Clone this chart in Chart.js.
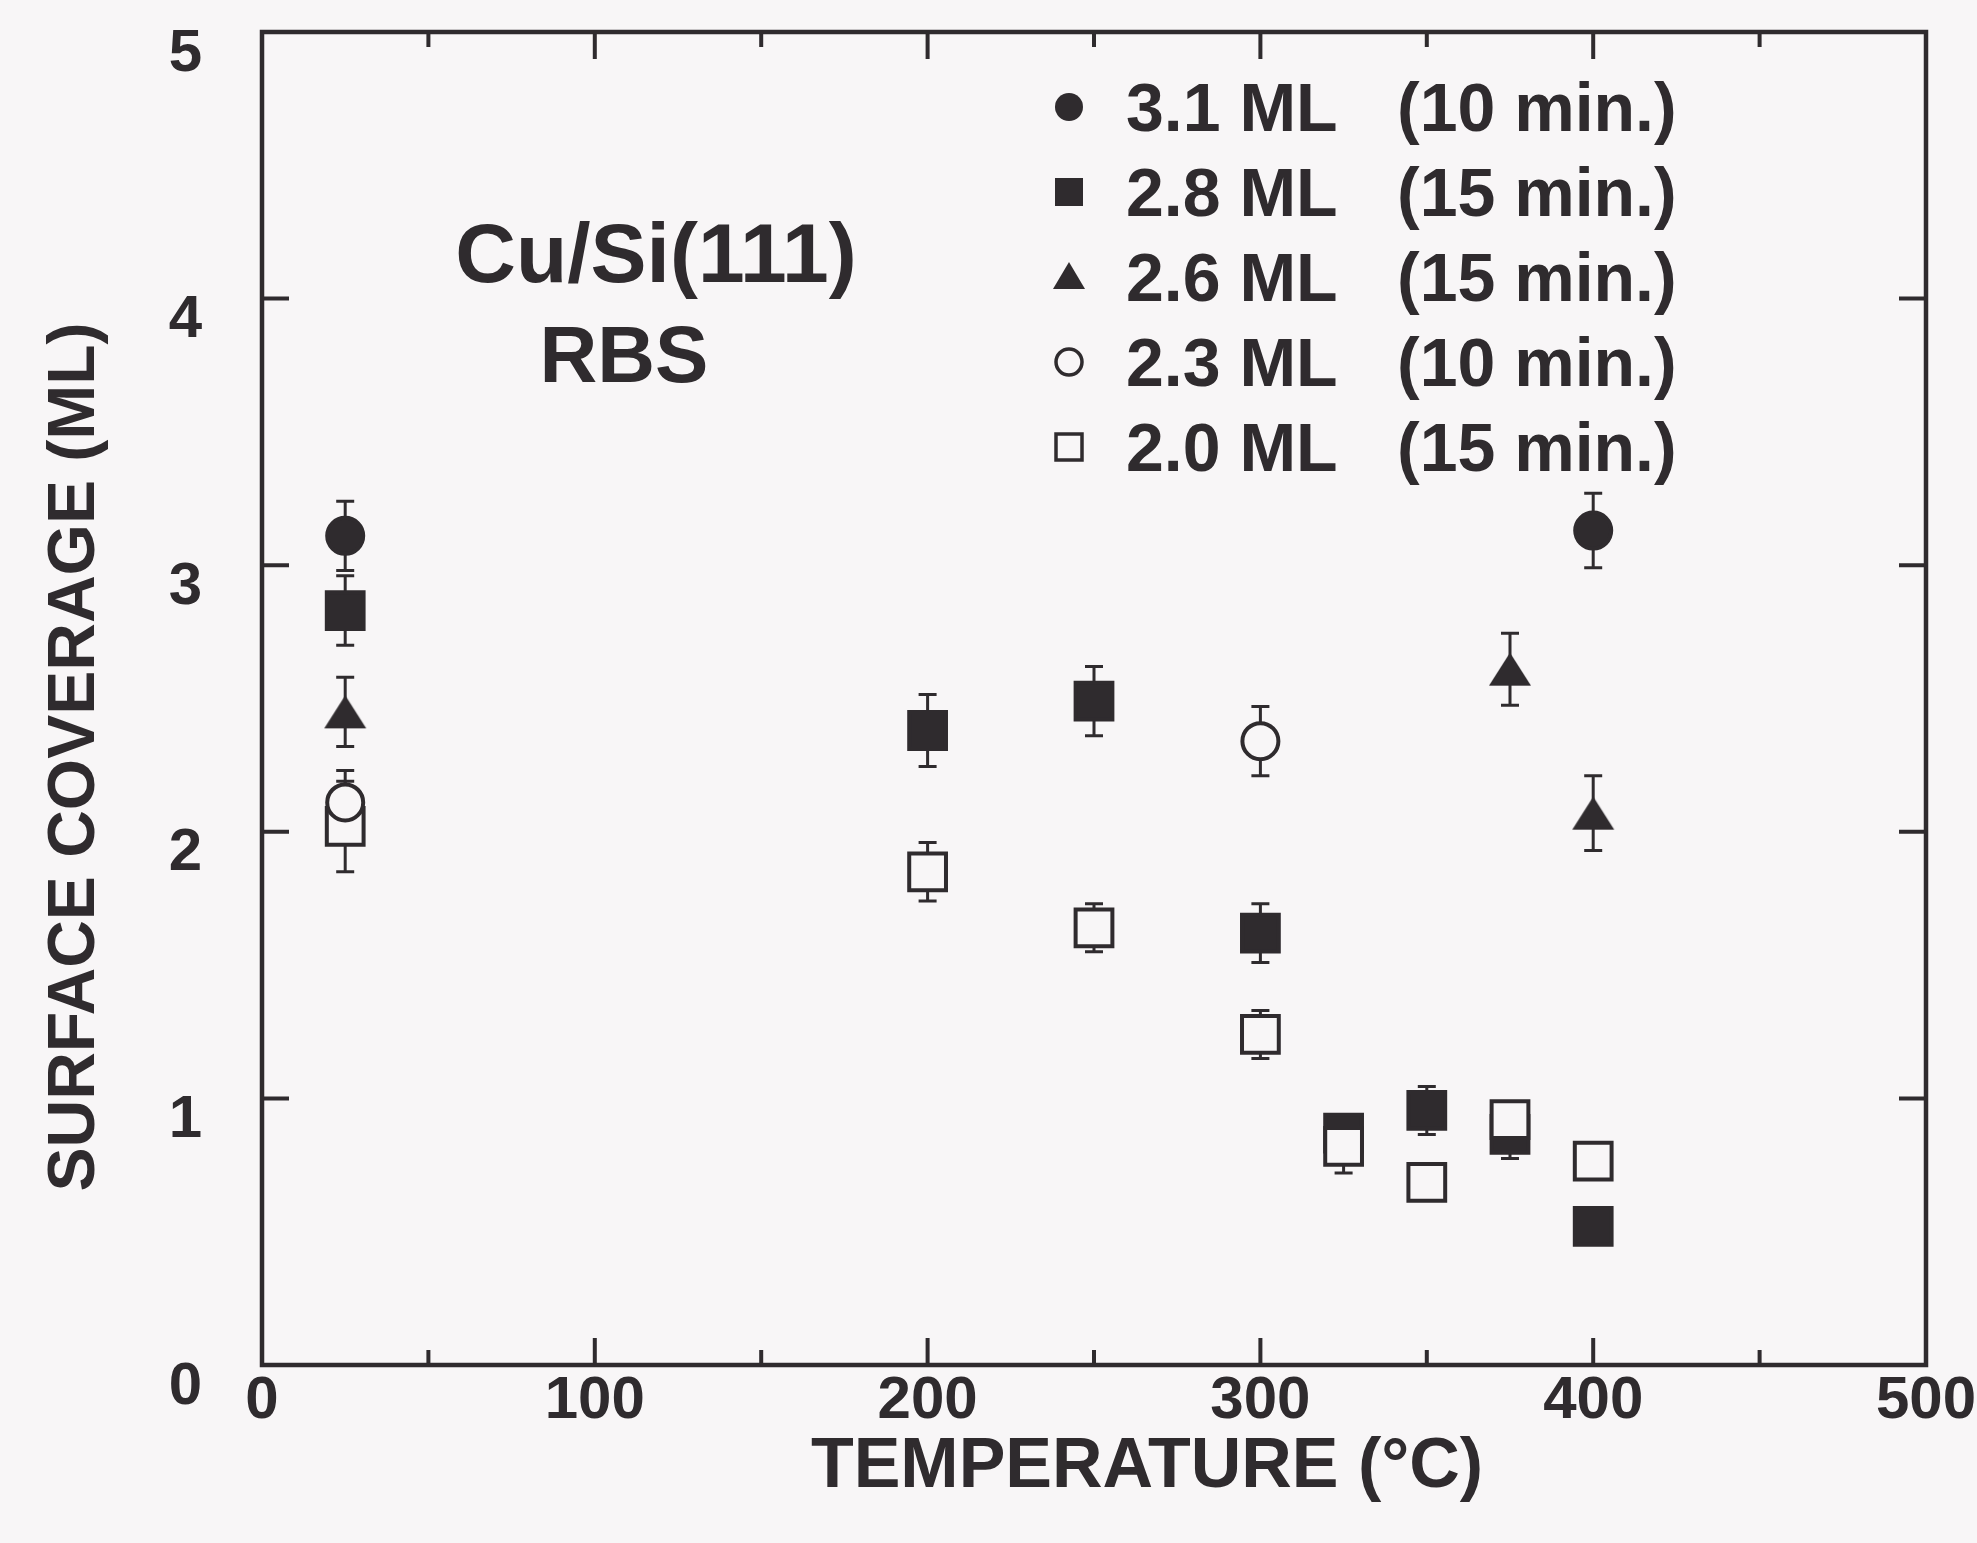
<!DOCTYPE html>
<html>
<head>
<meta charset="utf-8">
<title>Cu/Si(111) surface coverage</title>
<script src="https://cdn.jsdelivr.net/npm/chart.js@4.4.1/dist/chart.umd.min.js"></script>
<style>
  html, body { margin: 0; padding: 0; background: #f8f6f7; }
  #wrap { width: 1977px; height: 1543px; }
</style>
</head>
<body>
<div id="wrap"><canvas id="coverage" width="1977" height="1543"></canvas></div>
<script>
// ---- data: temperature (°C), coverage (ML), error (ML) ----
const t31 = [25, 400];
const c31 = [3.11, 3.13];
const e31 = [0.13, 0.14];

const t28 = [25, 200, 250, 300, 325, 350, 375, 400];
const c28 = [2.83, 2.38, 2.49, 1.62, 0.87, 0.955, 0.865, 0.52];
const e28 = [0.13, 0.135, 0.13, 0.11, 0.06, 0.09, 0.09, 0.04];

const t26 = [25, 375, 400];
const c26 = [2.45, 2.61, 2.07];
const e26 = [0.13, 0.135, 0.14];

const t23 = [25, 300];
const c23 = [2.11, 2.34];
const e23 = [0.12, 0.13];

const t20 = [25, 200, 250, 300, 325, 350, 375, 400];
const c20 = [2.02, 1.85, 1.64, 1.24, 0.82, 0.685, 0.92, 0.765];
const e20 = [0.17, 0.11, 0.09, 0.09, 0.1, 0.05, 0.06, 0.06];

const seriesLabels = ['3.1 ML', '2.8 ML', '2.6 ML', '2.3 ML', '2.0 ML'];
const anneals = ['(10 min.)', '(15 min.)', '(15 min.)', '(10 min.)', '(15 min.)'];

const xMajor = [100, 200, 300, 400];
const xMinor = [50, 150, 250, 350, 450];
const yMajor = [1, 2, 3, 4];

const ink = '#2f2b2e';
const paper = '#f8f6f7';
const FONT = '"Liberation Sans", Arial, Helvetica, sans-serif';

// filled triangle sprite, centred on its bounding box (built-in one sits on the centroid)
function triangleSprite(w, h){
  const c = document.createElement('canvas');
  c.width = w + 2; c.height = h + 2;
  const g = c.getContext('2d');
  g.fillStyle = ink;
  g.beginPath();
  g.moveTo(c.width / 2, 1);
  g.lineTo(w + 1, h + 1);
  g.lineTo(1, h + 1);
  g.closePath();
  g.fill();
  return c;
}

function series(label, xs, ys, errs, style, filled, radius, order){
  return {
    label,
    data: xs.map((x, i) => ({ x, y: ys[i] })),
    errors: errs,
    pointStyle: style,
    pointRadius: radius,
    pointHoverRadius: radius,
    pointBorderWidth: 4,
    pointBorderColor: ink,
    pointBackgroundColor: filled ? ink : paper,
    showLine: false,
    order
  };
}

const datasets = [
  series(seriesLabels[0], t31, c31, e31, 'circle',   true,  18, 4),
  series(seriesLabels[1], t28, c28, e28, 'rect',     true,  26, 3),
  series(seriesLabels[2], t26, c26, e26, triangleSprite(42, 33), true, 22, 2),
  series(seriesLabels[3], t23, c23, e23, 'circle',   false, 18, 0),
  series(seriesLabels[4], t20, c20, e20, 'rect',     false, 26, 1)
];

// vertical error bars with short caps, drawn under the markers
const errorBars = {
  id: 'errorBars',
  beforeDatasetsDraw(chart){
    const { ctx, scales: { x, y } } = chart;
    ctx.save();
    ctx.strokeStyle = ink;
    ctx.lineWidth = 3;
    chart.data.datasets.forEach(ds => {
      ds.data.forEach((p, i) => {
        const e = ds.errors[i];
        const px = x.getPixelForValue(p.x);
        const top = y.getPixelForValue(p.y + e);
        const bot = y.getPixelForValue(p.y - e);
        ctx.beginPath();
        ctx.moveTo(px, top); ctx.lineTo(px, bot);
        ctx.moveTo(px - 9, top); ctx.lineTo(px + 9, top);
        ctx.moveTo(px - 9, bot); ctx.lineTo(px + 9, bot);
        ctx.stroke();
      });
    });
    ctx.restore();
  }
};

// closed frame with inward ticks on all four sides
const frame = {
  id: 'frame',
  afterDatasetsDraw(chart){
    const { ctx, chartArea: a, scales: { x, y } } = chart;
    ctx.save();
    ctx.strokeStyle = ink;
    ctx.lineWidth = 4;
    ctx.lineCap = 'butt';
    ctx.beginPath();
    const tick = (px, len) => {
      ctx.moveTo(px, a.bottom); ctx.lineTo(px, a.bottom - len);
      ctx.moveTo(px, a.top); ctx.lineTo(px, a.top + len);
    };
    xMajor.forEach(v => tick(x.getPixelForValue(v), 27));
    xMinor.forEach(v => tick(x.getPixelForValue(v), 15));
    yMajor.forEach(v => {
      const py = y.getPixelForValue(v);
      ctx.moveTo(a.left, py); ctx.lineTo(a.left + 27, py);
      ctx.moveTo(a.right, py); ctx.lineTo(a.right - 27, py);
    });
    ctx.stroke();
    ctx.lineWidth = 4.5;
    ctx.strokeRect(a.left, a.top, a.right - a.left, a.bottom - a.top);
    ctx.restore();
  }
};

// legend block, sample label and axis titles
const labels = {
  id: 'labels',
  afterDraw(chart){
    const { ctx } = chart;
    ctx.save();
    ctx.fillStyle = ink;
    ctx.strokeStyle = ink;

    const styles = ['circle', 'rect', 'triangle', 'circle', 'rect'];
    const filled = [true, true, true, false, false];
    ctx.font = 'bold 68px ' + FONT;
    ctx.textBaseline = 'alphabetic';
    ctx.textAlign = 'left';
    seriesLabels.forEach((txt, i) => {
      const cy = 107 + i * 85;
      const mx = 1069;
      ctx.beginPath();
      if(styles[i] === 'circle'){
        ctx.arc(mx, cy, filled[i] ? 14 : 13, 0, Math.PI * 2);
      } else if(styles[i] === 'rect'){
        const h = filled[i] ? 14 : 13;
        ctx.rect(mx - h, cy - h, 2 * h, 2 * h);
      } else {
        ctx.moveTo(mx, cy - 15);
        ctx.lineTo(mx + 16, cy + 12);
        ctx.lineTo(mx - 16, cy + 12);
        ctx.closePath();
      }
      if(filled[i]){ ctx.fill(); }
      else { ctx.lineWidth = 3.5; ctx.stroke(); }
      ctx.fillText(txt, 1126, cy + 24);
      ctx.fillText(anneals[i], 1397, cy + 24);
    });

    ctx.textAlign = 'center';
    ctx.font = 'bold 84px ' + FONT;
    ctx.fillText('Cu/Si(111)', 656, 282);
    ctx.font = 'bold 80px ' + FONT;
    ctx.fillText('RBS', 624, 382);

    ctx.font = 'bold 70px ' + FONT;
    ctx.fillText('TEMPERATURE (°C)', 1147, 1487);

    ctx.translate(76, 757);
    ctx.rotate(-Math.PI / 2);
    ctx.font = 'bold 66px ' + FONT;
    ctx.textBaseline = 'middle';
    ctx.fillText('SURFACE COVERAGE (ML)', 0, 0);
    ctx.restore();
  }
};

const tickFont = { family: FONT, size: 60, weight: 'bold' };

// keep the plot box fixed: no extra room reserved for overhanging end labels
function fixBox(s, side, size){
  s[side] = size;
  s.paddingTop = 0; s.paddingBottom = 0;
  s.paddingLeft = 0; s.paddingRight = 0;
}

new Chart(document.getElementById('coverage'), {
  type: 'scatter',
  data: { datasets },
  options: {
    responsive: false,
    animation: false,
    devicePixelRatio: 1,
    layout: { padding: { top: 32, right: 51, left: 0, bottom: 0 } },
    plugins: { legend: { display: false }, tooltip: { enabled: false } },
    scales: {
      x: {
        type: 'linear', min: 0, max: 500,
        ticks: { stepSize: 100, color: ink, font: tickFont, padding: 0, maxRotation: 0 },
        grid: { display: false, drawTicks: false },
        border: { display: false },
        afterFit(s){ fixBox(s, 'height', 178); }
      },
      y: {
        type: 'linear', min: 0, max: 5,
        ticks: { stepSize: 1, color: ink, font: tickFont, padding: 60, labelOffset: 22 },
        grid: { display: false, drawTicks: false },
        border: { display: false },
        afterFit(s){ fixBox(s, 'width', 262); }
      }
    }
  },
  plugins: [errorBars, frame, labels]
});
</script>
</body>
</html>
